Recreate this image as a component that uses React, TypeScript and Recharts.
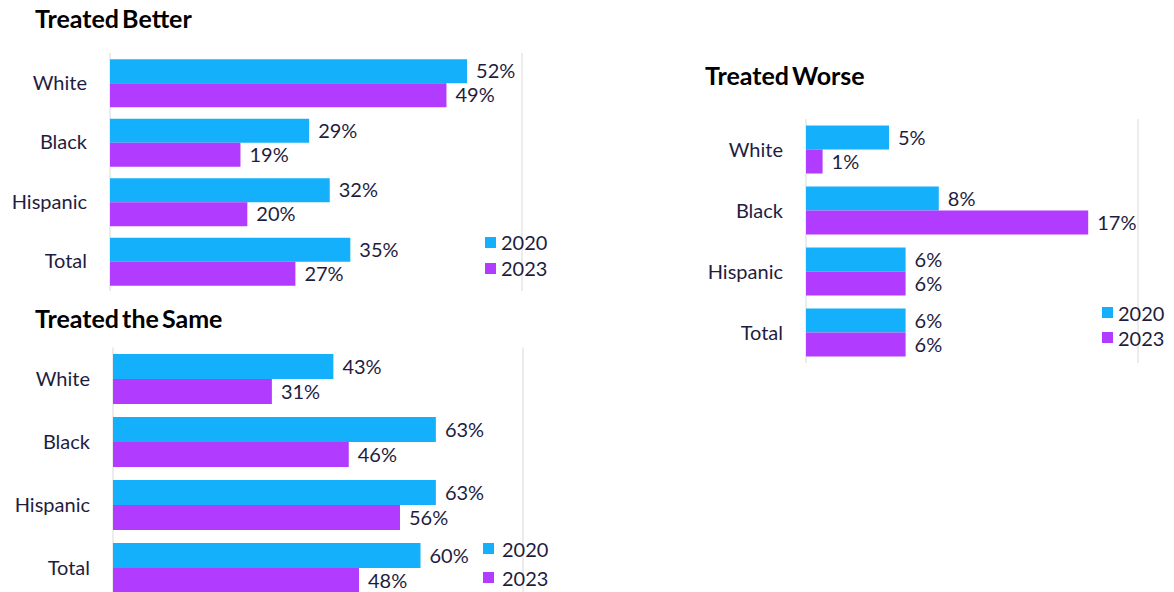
import React from "react";
import { BarChart, Bar, XAxis, YAxis, CartesianGrid, LabelList } from "recharts";

const groups = ["White", "Black", "Hispanic", "Total"];
const seriesNames = ["2020", "2023"];

const betterY2020 = [52, 29, 32, 35];
const betterY2023 = [49, 19, 20, 27];
const sameY2020 = [43, 63, 63, 60];
const sameY2023 = [31, 46, 56, 48];
const worseY2020 = [5, 8, 6, 6];
const worseY2023 = [1, 17, 6, 6];

const betterTicks = [0, 20, 40, 60];
const sameTicks = [0, 20, 40, 60, 80];
const worseTicks = [0, 10, 20];

const CYAN = "#14B0FC";
const PURPLE = "#B13BFE";
const NAVY = "#1F1D3F";
const GRID = "#E6E6E6";
const FONT = "Lato, 'Open Sans', sans-serif";

const makeRows = (a: number[], b: number[]) =>
  groups.map((g, i) => ({ name: g, y2020: a[i], y2023: b[i] }));

// legend drawn as plain html so it doesn't eat into the plot area
function LegendBox({ left, top, rowHeight, gap }: { left: number; top: number; rowHeight: number; gap: number }) {
  const colors = [CYAN, PURPLE];
  return (
    <div style={{ position: "absolute", left, top }}>
      {seriesNames.map((s, i) => (
        <div key={s} style={{ display: "flex", alignItems: "center", height: rowHeight }}>
          <span style={{ width: 11, height: 11, background: colors[i], marginRight: gap, display: "inline-block" }} />
          <span style={{ fontSize: 20, color: NAVY, fontFamily: FONT }}>{s}</span>
        </div>
      ))}
    </div>
  );
}

interface PanelProps {
  title: string;
  left: number;
  top: number;
  width: number;
  height: number;
  margin: { top: number; right: number; bottom: number; left: number };
  axisWidth: number;
  ticks: number[];
  a: number[];
  b: number[];
  titlePos: { left: number; top: number };
}

function Panel(p: PanelProps) {
  const data = makeRows(p.a, p.b);
  const max = p.ticks[p.ticks.length - 1];
  return (
    <>
      <div
        style={{
          position: "absolute",
          left: p.titlePos.left,
          top: p.titlePos.top,
          fontFamily: FONT,
          fontWeight: 700,
          fontSize: 25,
          color: "#000",
          lineHeight: "30px",
          wordSpacing: -3,
          whiteSpace: "nowrap",
        }}
      >
        {p.title}
      </div>
      <div style={{ position: "absolute", left: p.left, top: p.top }}>
        <BarChart
          width={p.width}
          height={p.height}
          data={data}
          layout="vertical"
          margin={p.margin}
          barCategoryGap="10.5%"
          barGap={0}
        >
          <CartesianGrid horizontal={false} stroke={GRID} strokeWidth={1.5} />
          <XAxis
            type="number"
            domain={[0, max]}
            ticks={p.ticks}
            tick={false}
            axisLine={false}
            tickLine={false}
            height={0}
          />
          <YAxis
            type="category"
            dataKey="name"
            width={p.axisWidth}
            axisLine={false}
            tickLine={false}
            tickSize={0}
            tickMargin={23}
            tick={{ fontSize: 20, fill: NAVY, fontFamily: FONT }}
          />
          <Bar dataKey="y2020" name="2020" fill={CYAN} isAnimationActive={false}>
            <LabelList
              dataKey="y2020"
              position="right"
              offset={9}
              formatter={(v: number) => `${v}%`}
              style={{ fontSize: 20, fill: NAVY, fontFamily: FONT }}
            />
          </Bar>
          <Bar dataKey="y2023" name="2023" fill={PURPLE} isAnimationActive={false}>
            <LabelList
              dataKey="y2023"
              position="right"
              offset={9}
              formatter={(v: number) => `${v}%`}
              style={{ fontSize: 20, fill: NAVY, fontFamily: FONT }}
            />
          </Bar>
        </BarChart>
      </div>
    </>
  );
}

export default function App() {
  return (
    <div
      style={{
        position: "absolute",
        left: 0,
        top: 0,
        width: 1174,
        height: 592,
        overflow: "hidden",
        background: "#fff",
      }}
    >
      <Panel
        title="Treated Better"
        left={0}
        top={0}
        width={560}
        height={300}
        margin={{ top: 53, right: 38, bottom: 9, left: 0 }}
        axisWidth={110}
        ticks={betterTicks}
        a={betterY2020}
        b={betterY2023}
        titlePos={{ left: 35, top: 3 }}
      />
      <LegendBox left={485} top={229} rowHeight={26} gap={5} />

      <Panel
        title="Treated the Same"
        left={0}
        top={300}
        width={560}
        height={310}
        margin={{ top: 47.5, right: 37, bottom: 10.5, left: 0 }}
        axisWidth={113}
        ticks={sameTicks}
        a={sameY2020}
        b={sameY2023}
        titlePos={{ left: 35, top: 303 }}
      />
      <LegendBox left={483} top={534} rowHeight={29} gap={8} />

      <Panel
        title="Treated Worse"
        left={690}
        top={60}
        width={484}
        height={320}
        margin={{ top: 59, right: 36, bottom: 17, left: 0 }}
        axisWidth={116}
        ticks={worseTicks}
        a={worseY2020}
        b={worseY2023}
        titlePos={{ left: 705, top: 60 }}
      />
      <LegendBox left={1102} top={300} rowHeight={25} gap={5} />
    </div>
  );
}
